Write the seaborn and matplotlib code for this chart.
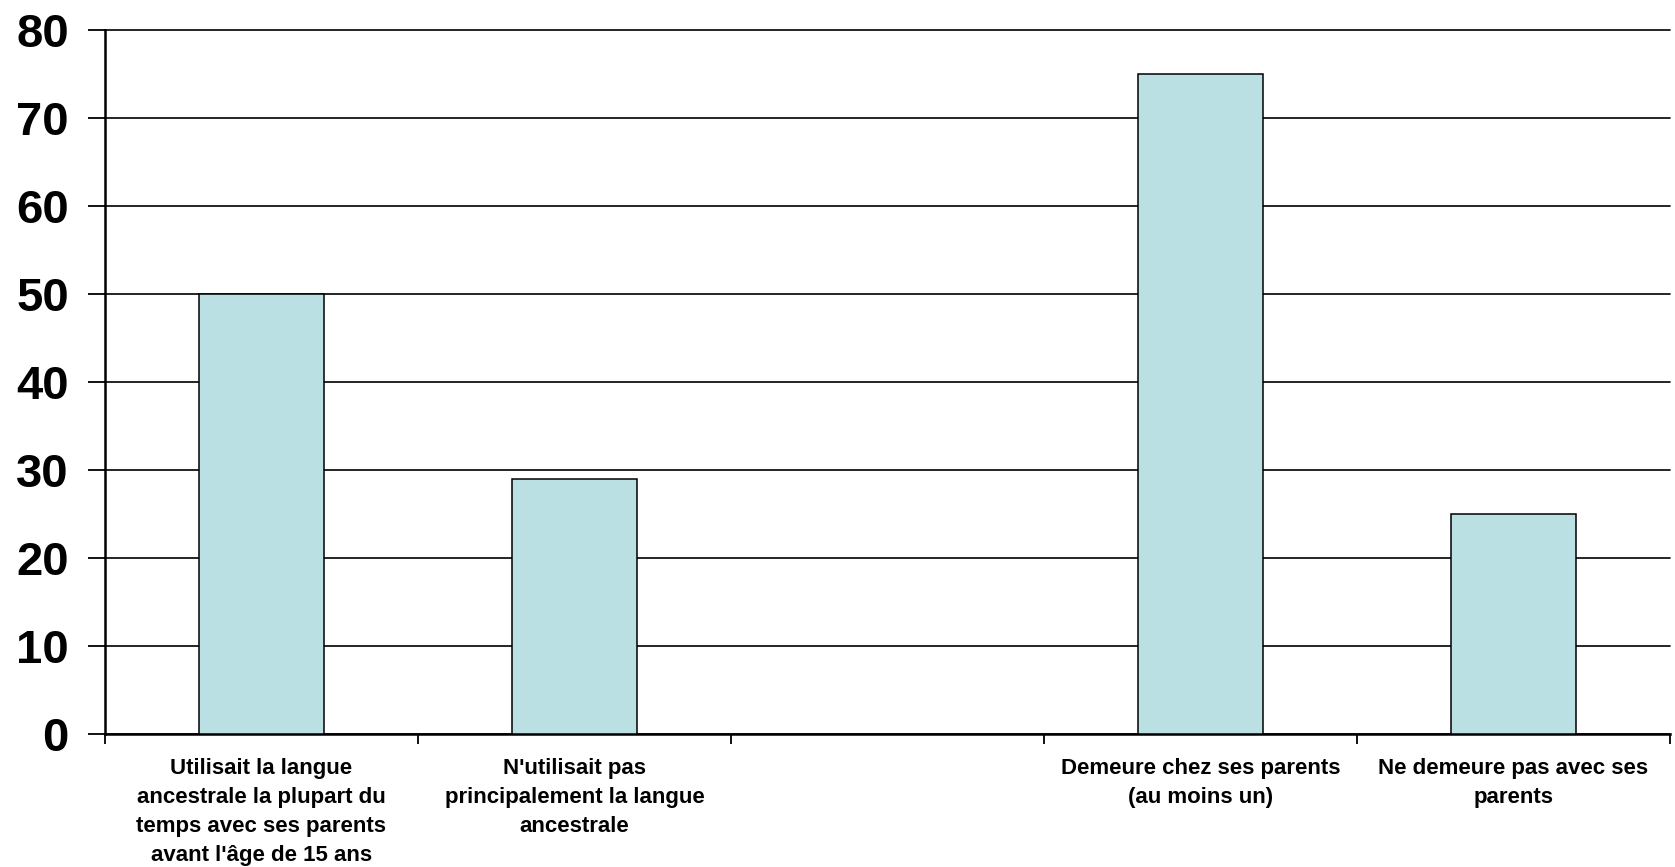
import numpy as np
import pandas as pd
import matplotlib
matplotlib.use("Agg")
import matplotlib.pyplot as plt
import seaborn as sns

categories = [
    "Utilisait la langue\nancestrale la plupart du\ntemps avec ses parents\navant l'âge de 15 ans",
    "N'utilisait pas\nprincipalement la langue\nancestrale",
    " ",
    "Demeure chez ses parents\n(au moins un)",
    "Ne demeure pas avec ses\nparents",
]
values = [50, 29, np.nan, 75, 25]
yticks = [0, 10, 20, 30, 40, 50, 60, 70, 80]

sns.set_theme(style="white")
plt.rcParams['font.family'] = ['Liberation Sans', 'DejaVu Sans']
plt.rcParams['text.color'] = 'black'
plt.rcParams['xtick.color'] = 'black'
plt.rcParams['ytick.color'] = 'black'
plt.rcParams['xtick.labelcolor'] = 'black'
plt.rcParams['ytick.labelcolor'] = 'black'

df = pd.DataFrame({"cat": categories, "val": values})

fig = plt.figure(figsize=(16.75, 8.67), dpi=100)
ax = fig.add_axes([105/1675, 133/867, (1670-105)/1675, (734-30)/867])

sns.barplot(data=df, x="cat", y="val", order=categories, color="#BAE0E3",
            saturation=1, width=0.4, edgecolor="black", linewidth=1.1,
            errorbar=None, ax=ax, zorder=3)

ax.set_ylim(0, 80)
ax.set_xlim(-0.5, len(categories) - 0.5)
ax.set_yticks(yticks)
ax.set_yticklabels([str(v) for v in yticks], fontsize=34, fontweight="bold", color="black")
ax.yaxis.grid(True, color="black", linewidth=1.2, zorder=0)
for gl in ax.get_ygridlines():
    gl.set_clip_on(False)
ax.set_axisbelow(True)
ax.set_xlabel("")
ax.set_ylabel("")

ax.set_xticks(range(len(categories)))
ax.set_xticklabels(categories, fontsize=16, fontweight="bold", linespacing=1.5, color="black")
ax.set_xticks(np.arange(-0.5, len(categories), 1.0), minor=True)
ax.tick_params(axis="x", which="major", length=0, pad=17)
ax.tick_params(axis="x", which="minor", length=7, width=1.3, color="black", direction="out", bottom=True)
ax.tick_params(axis="y", which="major", length=12, width=1.3, color="black", direction="out", left=True, pad=14)

for s in ["top", "right"]:
    ax.spines[s].set_visible(False)
for s in ["left", "bottom"]:
    ax.spines[s].set_visible(True)
    ax.spines[s].set_color("black")
    ax.spines[s].set_linewidth(1.8)

fig.savefig("out.png", dpi=100, facecolor="white")
